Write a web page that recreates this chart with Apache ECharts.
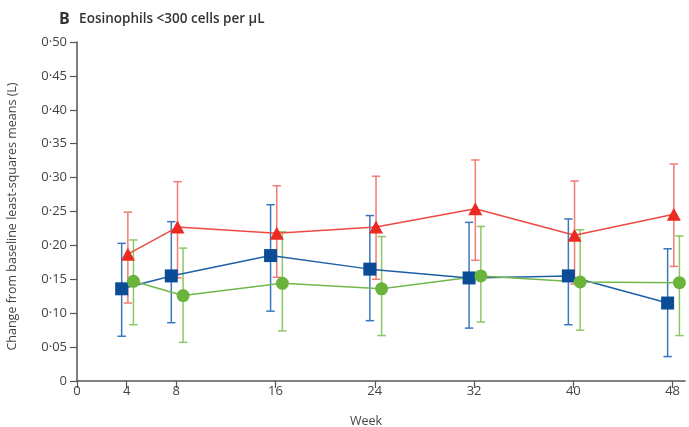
<!DOCTYPE html>
<html><head><meta charset="utf-8">
<script src="https://cdn.jsdelivr.net/npm/echarts@6/dist/echarts.min.js"></script>
<style>html,body{margin:0;padding:0;background:#fff}#c{width:689px;height:427px}</style>
</head><body><div id="c"></div>
<script>
const weeks = [4, 8, 16, 24, 32, 40, 48];
const xTicks = [0, 4, 8, 16, 24, 32, 40, 48];
const yTicks = [0, 0.05, 0.10, 0.15, 0.20, 0.25, 0.30, 0.35, 0.40, 0.45, 0.50];

const blueMean = [0.136, 0.155, 0.185, 0.165, 0.152, 0.155, 0.115];
const blueHi   = [0.203, 0.235, 0.260, 0.244, 0.234, 0.239, 0.195];
const blueLo   = [0.066, 0.086, 0.103, 0.089, 0.078, 0.083, 0.036];

const redMean  = [0.187, 0.227, 0.218, 0.227, 0.254, 0.215, 0.246];
const redHi    = [0.249, 0.294, 0.288, 0.302, 0.326, 0.295, 0.320];
const redLo    = [0.115, 0.152, 0.153, 0.150, 0.178, 0.143, 0.169];

const greenMean = [0.147, 0.126, 0.144, 0.136, 0.155, 0.146, 0.145];
const greenHi   = [0.208, 0.196, 0.220, 0.213, 0.228, 0.223, 0.214];
const greenLo   = [0.083, 0.057, 0.074, 0.067, 0.087, 0.075, 0.067];

const groups = [
  {name: 'Blue', mean: blueMean, hi: blueHi, lo: blueLo, off: -0.4, line: '#1f5fa6', bar: '#3a78bd', marker: '#0a4d96', symbol: 'rect', size: 13},
  {name: 'Green', mean: greenMean, hi: greenHi, lo: greenLo, off: 0.55, line: '#72b84a', bar: '#8cc866', marker: '#6ab43c', symbol: 'circle', size: 13},
  {name: 'Red', mean: redMean, hi: redHi, lo: redLo, off: 0.1, line: '#ee4a43', bar: '#f27c77', marker: '#ec2a22', symbol: 'triangle', size: [14, 13]}
];

const series = [];
groups.forEach(g => {
  series.push({
    type: 'custom',
    name: g.name + ' CI',
    z: 2,
    silent: true,
    data: weeks.map((w, i) => [w + g.off, g.lo[i], g.hi[i]]),
    renderItem: function (params, api) {
      const x = api.value(0);
      const top = api.coord([x, api.value(2)]);
      const bot = api.coord([x, api.value(1)]);
      const hw = 4.2;
      const st = {stroke: g.bar, lineWidth: 1.5};
      return {type: 'group', children: [
        {type: 'line', shape: {x1: top[0], y1: top[1], x2: bot[0], y2: bot[1]}, style: st},
        {type: 'line', shape: {x1: top[0] - hw, y1: top[1], x2: top[0] + hw, y2: top[1]}, style: st},
        {type: 'line', shape: {x1: bot[0] - hw, y1: bot[1], x2: bot[0] + hw, y2: bot[1]}, style: st}
      ]};
    }
  });
});
groups.forEach(g => {
  series.push({
    type: 'line',
    name: g.name,
    z: 3,
    data: weeks.map((w, i) => [w + g.off, g.mean[i]]),
    symbol: g.symbol,
    symbolSize: g.size,
    showSymbol: true,
    lineStyle: {color: g.line, width: 1.5},
    itemStyle: {color: g.marker, borderWidth: 0},
    emphasis: {disabled: true},
    animation: false
  });
});

const chart = echarts.init(document.getElementById('c'));
chart.setOption({
  animation: false,
  backgroundColor: '#fff',
  textStyle: {fontFamily: '"Open Sans", sans-serif'},
  title: {
    left: 54, top: 5,
    text: '{b|B}  {t|Eosinophils <300 cells per µL}',
    textStyle: {rich: {
      b: {fontSize: 16, fontWeight: 'bold', color: '#333', fontFamily: '"Open Sans", sans-serif'},
      t: {fontSize: 13.5, fontWeight: 600, color: '#333', fontFamily: '"Open Sans", sans-serif'}
    }}
  },
  grid: {left: 77, right: 4, top: 42, bottom: 46, containLabel: false, outerBoundsMode: 'none'},
  xAxis: {
    type: 'value', min: 0, max: 49,
    name: 'Week', nameLocation: 'middle', nameGap: 34,
    nameTextStyle: {fontSize: 12.5, color: '#444', fontFamily: '"Open Sans", sans-serif', padding: [0, 30, 0, 0]},
    axisLine: {show: true, onZero: false, lineStyle: {color: '#555', width: 1.5}},
    axisTick: {show: true, length: 7, customValues: xTicks, lineStyle: {color: '#555', width: 1.2}},
    axisLabel: {customValues: xTicks, color: '#444', fontSize: 13, margin: 4, fontFamily: '"Open Sans", sans-serif'},
    splitLine: {show: false}
  },
  yAxis: {
    type: 'value', min: 0, max: 0.5,
    name: 'Change from baseline least-squares means (L)', nameLocation: 'middle', nameGap: 58,
    nameTextStyle: {fontSize: 12.5, color: '#444', fontFamily: '"Open Sans", sans-serif', padding: [0, 10, 0, 0]},
    axisLine: {show: true, lineStyle: {color: '#555', width: 1.5}},
    axisTick: {show: true, length: 7, customValues: yTicks, lineStyle: {color: '#555', width: 1.2}},
    axisLabel: {
      customValues: yTicks, color: '#444', fontSize: 13, margin: 10, fontFamily: '"Open Sans", sans-serif',
      formatter: v => v === 0 ? '0' : v.toFixed(2).replace('.', '·')
    },
    splitLine: {show: false}
  },
  series: series
});
</script></body></html>
